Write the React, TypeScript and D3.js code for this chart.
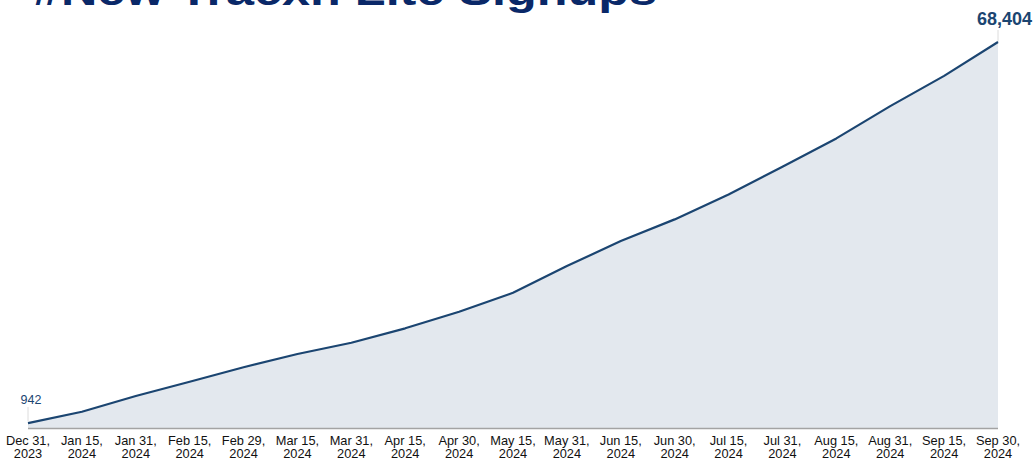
import React from "react";
import * as d3 from "d3";

const categories = [
  "Dec 31, 2023", "Jan 15, 2024", "Jan 31, 2024", "Feb 15, 2024", "Feb 29, 2024",
  "Mar 15, 2024", "Mar 31, 2024", "Apr 15, 2024", "Apr 30, 2024", "May 15, 2024",
  "May 31, 2024", "Jun 15, 2024", "Jun 30, 2024", "Jul 15, 2024", "Jul 31, 2024",
  "Aug 15, 2024", "Aug 31, 2024", "Sep 15, 2024", "Sep 30, 2024",
];
const signups = [
  942, 2970, 5750, 8280, 10830, 13180, 15180, 17730, 20660, 24020,
  28750, 33170, 37010, 41430, 46310, 51340, 57050, 62410, 68404,
];
const title = "#New Tracxn Lite Signups";

const W = 1034;
const H = 460;
const LINE = "#1b4571";
const FILL = "#e3e8ee";
const NAVY = "#0a2868";

export default function App() {
  const x = d3.scalePoint<string>().domain(categories).range([28, 998]).padding(0);
  const y = d3.scaleLinear().domain([0, 68404]).range([428.5, 42]);

  const pts = categories.map((c, i) => ({ c, v: signups[i] }));
  const line = d3.line<{ c: string; v: number }>().x((d) => x(d.c)!).y((d) => y(d.v));
  const area = d3
    .area<{ c: string; v: number }>()
    .x((d) => x(d.c)!)
    .y0(y(0))
    .y1((d) => y(d.v));

  const first = pts[0];
  const last = pts[pts.length - 1];
  const fmt = d3.format(",");

  return (
    <svg
      width={W}
      height={H}
      style={{ position: "absolute", left: 0, top: 0, background: "#fff" }}
      fontFamily="'Liberation Sans', Arial, sans-serif"
    >
      <text
        x={33}
        y={5}
        fontSize={40}
        fontWeight="bold"
        fill={NAVY}
        textLength={624}
        lengthAdjust="spacingAndGlyphs"
      >
        {title}
      </text>
      <path d={area(pts)!} fill={FILL} />
      <line x1={x(first.c)} x2={x(last.c)} y1={y(0)} y2={y(0)} stroke="#a3a3a3" strokeWidth={1.5} />
      <line x1={x(first.c)} x2={x(first.c)} y1={y(first.v) - 2} y2={407} stroke="#dcdcdc" strokeWidth={1} />
      <line x1={x(last.c)} x2={x(last.c)} y1={y(last.v)} y2={30} stroke="#dcdcdc" strokeWidth={1} />
      <path d={line(pts)!} fill="none" stroke={LINE} strokeWidth={2.2} strokeLinejoin="round" />
      <text x={x(first.c)! + 3} y={404} fontSize={12.5} fill={LINE} textAnchor="middle">
        {fmt(first.v)}
      </text>
      <text x={1032} y={25} fontSize={18} fontWeight="bold" fill={LINE} textAnchor="end">
        {fmt(last.v)}
      </text>
      {categories.map((c) => {
        const k = c.lastIndexOf(" ");
        const a = c.slice(0, k);
        const b = c.slice(k + 1);
        return (
          <text key={c} x={x(c)} textAnchor="middle" fontSize={12.8} fill="#111">
            <tspan x={x(c)} y={445}>{a}</tspan>
            <tspan x={x(c)} y={458}>{b}</tspan>
          </text>
        );
      })}
    </svg>
  );
}
